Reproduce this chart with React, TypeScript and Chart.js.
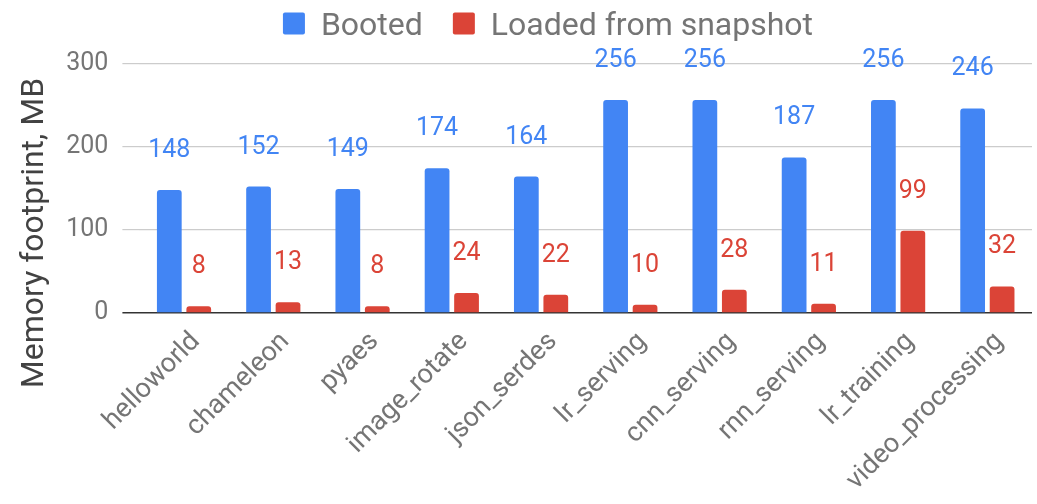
import React, { useEffect, useRef } from "react";
import { Chart, registerables } from "chart.js";

Chart.register(...registerables);

const categories = [
  "helloworld",
  "chameleon",
  "pyaes",
  "image_rotate",
  "json_serdes",
  "lr_serving",
  "cnn_serving",
  "rnn_serving",
  "lr_training",
  "video_processing",
];
const booted = [148, 152, 149, 174, 164, 256, 256, 187, 256, 246];
const loadedFromSnapshot = [8, 13, 8, 24, 22, 10, 28, 11, 99, 32];
const yTicks = [0, 100, 200, 300];
const seriesNames = ["Booted", "Loaded from snapshot"];
const yTitle = "Memory footprint, MB";

const BLUE = "#4285F4";
const RED = "#DB4437";
const FONT = "Roboto, 'Noto Sans', sans-serif";

// Values printed above each bar, in the series colour.
const valueLabels = {
  id: "valueLabels",
  afterDatasetsDraw(chart: any) {
    const ctx = chart.ctx;
    ctx.save();
    ctx.font = `25px ${FONT}`;
    ctx.textAlign = "center";
    ctx.textBaseline = "alphabetic";
    chart.data.datasets.forEach((ds: any, di: number) => {
      const meta = chart.getDatasetMeta(di);
      ctx.fillStyle = ds.backgroundColor;
      meta.data.forEach((el: any, i: number) => {
        ctx.fillText(String(ds.data[i]), el.x, el.y - 33);
      });
    });
    ctx.restore();
  },
};

// Legend row at the top, built from the datasets.
const topLegend = {
  id: "topLegend",
  afterDraw(chart: any) {
    const ctx = chart.ctx;
    ctx.save();
    ctx.font = `32px ${FONT}`;
    const box = 22;
    const gap = 16;
    const itemGap = 30;
    const items = chart.data.datasets.map((ds: any) => ({
      text: ds.label,
      color: ds.backgroundColor,
      w: ctx.measureText(ds.label).width,
    }));
    const total =
      items.reduce((s: number, it: any) => s + box + gap + it.w, 0) +
      itemGap * (items.length - 1);
    let x = 548 - total / 2;
    items.forEach((it: any) => {
      ctx.fillStyle = it.color;
      ctx.beginPath();
      ctx.roundRect(x, 12.5, box, box, 2);
      ctx.fill();
      ctx.fillStyle = "#757575";
      ctx.textBaseline = "alphabetic";
      ctx.textAlign = "left";
      ctx.fillText(it.text, x + box + gap, 34.5);
      x += box + gap + it.w + itemGap;
    });
    ctx.restore();
  },
};

// Vertical axis title, centred on the whole chart height.
const axisTitle = {
  id: "axisTitle",
  afterDraw(chart: any) {
    const ctx = chart.ctx;
    ctx.save();
    ctx.font = `32px ${FONT}`;
    ctx.fillStyle = "#424242";
    ctx.translate(43, 233);
    ctx.rotate(-Math.PI / 2);
    ctx.textAlign = "center";
    ctx.textBaseline = "alphabetic";
    ctx.fillText(yTitle, 0, 0);
    ctx.restore();
  },
};

export default function App() {
  const canvasRef = useRef<HTMLCanvasElement | null>(null);

  useEffect(() => {
    if (!canvasRef.current) return;
    const chart = new Chart(canvasRef.current, {
      type: "bar",
      data: {
        labels: categories,
        datasets: [
          {
            label: seriesNames[0],
            data: booted,
            backgroundColor: BLUE,
            borderRadius: { topLeft: 3, topRight: 3, bottomLeft: 0, bottomRight: 0 },
            borderSkipped: "start",
            categoryPercentage: 0.66,
            barPercentage: 0.84,
          },
          {
            label: seriesNames[1],
            data: loadedFromSnapshot,
            backgroundColor: RED,
            borderRadius: { topLeft: 3, topRight: 3, bottomLeft: 0, bottomRight: 0 },
            borderSkipped: "start",
            categoryPercentage: 0.66,
            barPercentage: 0.84,
          },
        ],
      },
      options: {
        animation: false,
        responsive: true,
        maintainAspectRatio: false,
        layout: { padding: { top: 63.5, right: 5, left: 0, bottom: 0 } },
        plugins: {
          legend: { display: false },
          tooltip: { enabled: false },
        },
        scales: {
          x: {
            grid: { display: false, drawTicks: false },
            border: { display: false },
            ticks: {
              minRotation: 45,
              maxRotation: 45,
              autoSkip: false,
              padding: 13,
              labelOffset: 12,
              color: "#757575",
              font: { family: FONT, size: 27 },
            },
            afterFit: (scale: any) => {
              scale.height = 191;
            },
          },
          y: {
            min: 0,
            max: 300,
            afterBuildTicks: (scale: any) => {
              scale.ticks = yTicks.map((v) => ({ value: v }));
            },
            afterFit: (scale: any) => {
              scale.width = 139.4;
            },
            border: { display: false },
            grid: {
              color: (c: any) => (c.tick && c.tick.value === 0 ? "#333333" : "#cccccc"),
              lineWidth: (c: any) => (c.tick && c.tick.value === 0 ? 1.5 : 1.2),
              drawTicks: true,
              tickLength: 17,
            },
            ticks: {
              padding: 14,
              color: "#757575",
              font: { family: FONT, size: 25 },
            },
          },
        },
      },
      plugins: [valueLabels, topLegend, axisTitle],
    });
    return () => chart.destroy();
  }, []);

  return (
    <div style={{ position: "fixed", left: 0, top: 0, width: 1037, height: 504 }}>
      <canvas ref={canvasRef} />
    </div>
  );
}
